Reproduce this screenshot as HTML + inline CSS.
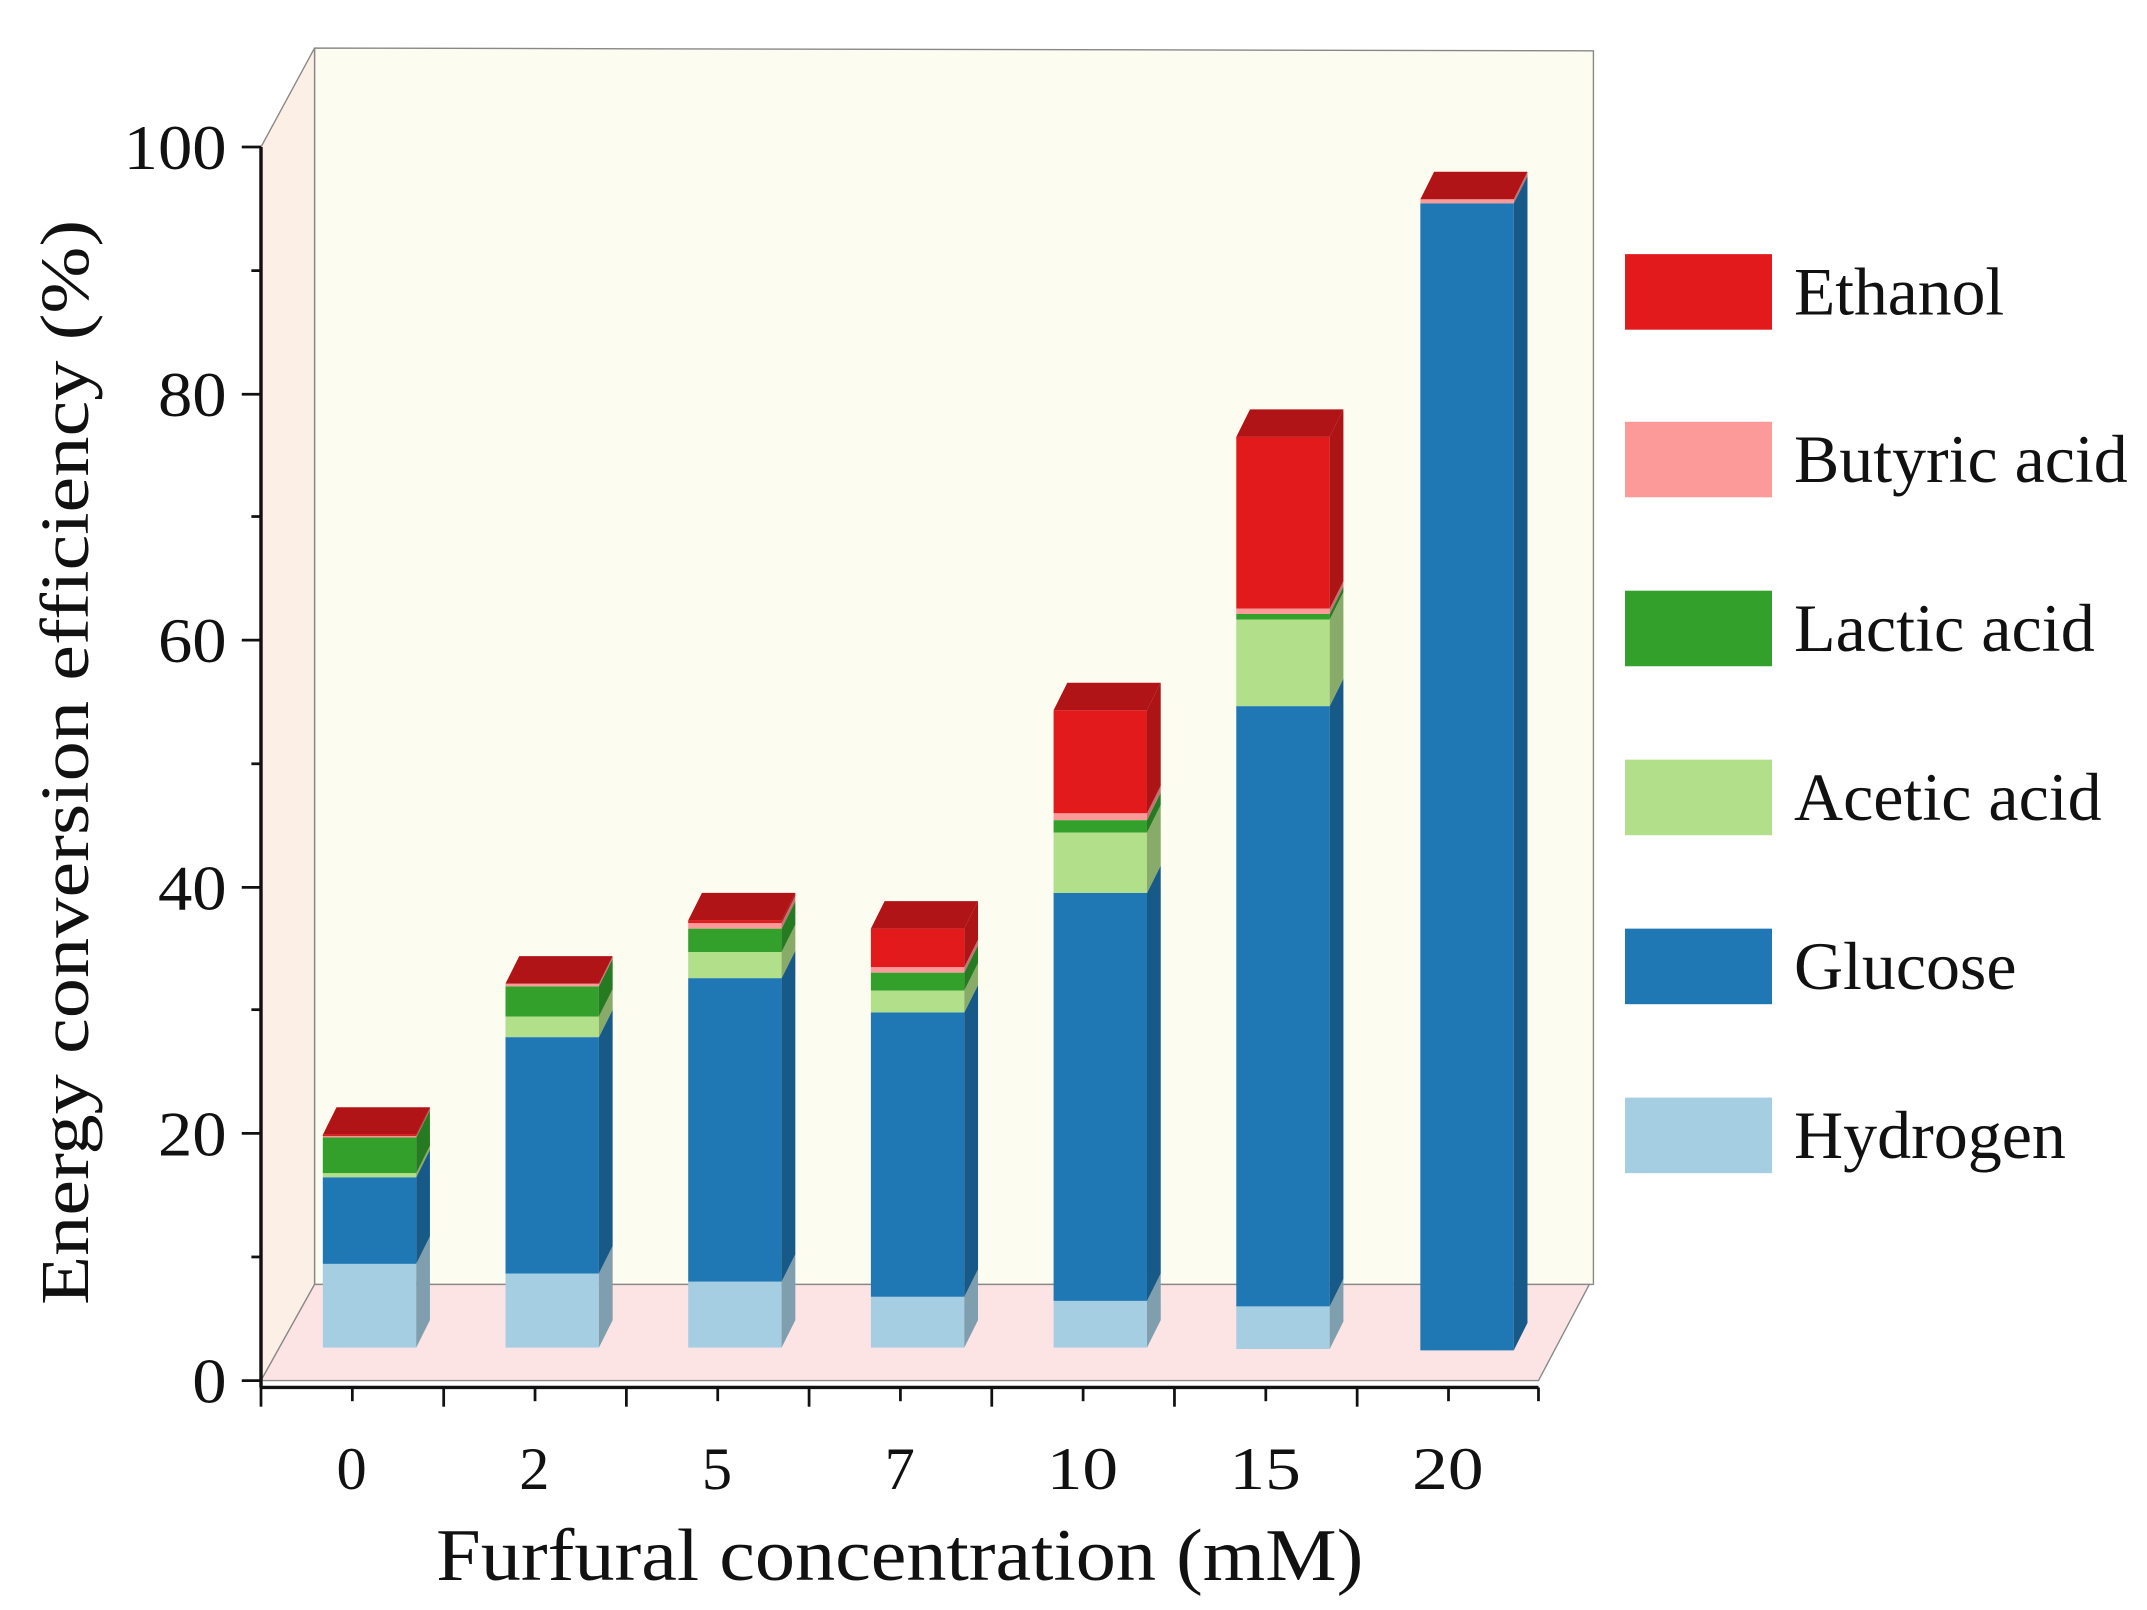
<!DOCTYPE html>
<html><head><meta charset="utf-8"><style>
html,body{margin:0;padding:0;background:#fff;}
svg{display:block;}
text{font-family:"Liberation Serif",serif;fill:#111;}
</style></head><body>
<svg id="s" width="2147" height="1610" viewBox="0 0 1563 1172" preserveAspectRatio="none">
<polygon points="229,35 1160,37 1160,935 229,935" fill="#fdfcf1" stroke="#888" stroke-width="1"/>
<polygon points="190,107 229,35 229,935 190,1005" fill="#fcefe6" stroke="#888" stroke-width="1"/>
<polygon points="190,1005 229,935 1157,935 1120,1005" fill="#fce4e4" stroke="#888" stroke-width="1"/>
<g id="bars"></g>
<line x1="190" y1="107" x2="190" y2="1010" stroke="#111" stroke-width="2.5"/>
<g stroke="#111" stroke-width="2">
<line x1="176" y1="107" x2="190" y2="107"/><line x1="183" y1="197" x2="190" y2="197"/>
<line x1="176" y1="287" x2="190" y2="287"/><line x1="183" y1="376" x2="190" y2="376"/>
<line x1="176" y1="466" x2="190" y2="466"/><line x1="183" y1="556" x2="190" y2="556"/>
<line x1="176" y1="646" x2="190" y2="646"/><line x1="183" y1="735" x2="190" y2="735"/>
<line x1="176" y1="825" x2="190" y2="825"/><line x1="183" y1="915" x2="190" y2="915"/>
<line x1="176" y1="1005" x2="190" y2="1005"/>
</g>
<g font-size="46" text-anchor="end" lengthAdjust="spacingAndGlyphs">
<text x="165" y="123" textLength="75" lengthAdjust="spacingAndGlyphs">100</text>
<text x="165" y="303" textLength="50" lengthAdjust="spacingAndGlyphs">80</text>
<text x="165" y="482" textLength="50" lengthAdjust="spacingAndGlyphs">60</text>
<text x="165" y="662" textLength="50" lengthAdjust="spacingAndGlyphs">40</text>
<text x="165" y="841" textLength="50" lengthAdjust="spacingAndGlyphs">20</text>
<text x="165" y="1021" textLength="25" lengthAdjust="spacingAndGlyphs">0</text>
</g>
<text transform="translate(64,555) rotate(-90)" font-size="50" text-anchor="middle" textLength="790" lengthAdjust="spacingAndGlyphs">Energy conversion efficiency (%)</text>
<line x1="190" y1="1010" x2="1120" y2="1010" stroke="#111" stroke-width="2.5"/>
<g stroke="#111" stroke-width="2" id="xt"></g>
<g font-size="44" text-anchor="middle">
<text x="256" y="1084">0</text><text x="389" y="1084">2</text><text x="522" y="1084">5</text>
<text x="655" y="1084">7</text>
<text x="788" y="1084" textLength="52" lengthAdjust="spacingAndGlyphs">10</text>
<text x="921" y="1084" textLength="52" lengthAdjust="spacingAndGlyphs">15</text>
<text x="1054" y="1084" textLength="52" lengthAdjust="spacingAndGlyphs">20</text>
</g>
<text x="655" y="1150" font-size="54" text-anchor="middle" textLength="675" lengthAdjust="spacingAndGlyphs">Furfural concentration (mM)</text>
<rect x="1183" y="185" width="107" height="55" fill="#e31a1c"/>
<rect x="1183" y="307" width="107" height="55" fill="#fb9a99"/>
<rect x="1183" y="430" width="107" height="55" fill="#33a02c"/>
<rect x="1183" y="553" width="107" height="55" fill="#b2df8a"/>
<rect x="1183" y="676" width="107" height="55" fill="#1f78b4"/>
<rect x="1183" y="799" width="107" height="55" fill="#a6cee3"/>
<g font-size="49">
<text x="1306" y="229" textLength="153" lengthAdjust="spacingAndGlyphs">Ethanol</text>
<text x="1306" y="351" textLength="243" lengthAdjust="spacingAndGlyphs">Butyric acid</text>
<text x="1306" y="474" textLength="219" lengthAdjust="spacingAndGlyphs">Lactic acid</text>
<text x="1306" y="597" textLength="224" lengthAdjust="spacingAndGlyphs">Acetic acid</text>
<text x="1306" y="720" textLength="162" lengthAdjust="spacingAndGlyphs">Glucose</text>
<text x="1306" y="843" textLength="198" lengthAdjust="spacingAndGlyphs">Hydrogen</text>
</g>
</svg>
<script>
var NS="http://www.w3.org/2000/svg";
var cols=["#a6cee3","#1f78b4","#b2df8a","#33a02c","#fb9a99","#e31a1c"];
var side=["#7f9eae","#185a87","#88ab69","#267a21","#c07574","#ad1416"];
var bars=[
[235,[981,920,857,854,828,827,826]],
[368,[981,927,755,740,718,716,716]],
[501,[981,933,712,693,676,672,670]],
[634,[981,944,737,721,708,704,676]],
[767,[981,947,650,606,597,592,517]],
[900,[982,951,514,451,447,443,318]],
[1034,[983,983,148,148,148,145,145]]];
var g=document.getElementById("bars"),W=68,dx=10,dy=-20;
function poly(p,f){var e=document.createElementNS(NS,"polygon");e.setAttribute("points",p);e.setAttribute("fill",f);g.appendChild(e);}
bars.forEach(function(b){var x=b[0],y=b[1];
for(var i=0;i<6;i++){var a=y[i],t=y[i+1];if(a-t<=0)continue;
poly(x+","+a+" "+(x+W)+","+a+" "+(x+W)+","+t+" "+x+","+t,cols[i]);
poly((x+W)+","+a+" "+(x+W+dx)+","+(a+dy)+" "+(x+W+dx)+","+(t+dy)+" "+(x+W)+","+t,side[i]);}
var T=y[6];poly(x+","+T+" "+(x+W)+","+T+" "+(x+W+dx)+","+(T+dy)+" "+(x+dx)+","+(T+dy),"#b01416");});
var xt=document.getElementById("xt");
for(var k=0;k<14;k++){var xx=190+66.5*k;if(xx>1121)break;var l=document.createElementNS(NS,"line");
l.setAttribute("x1",xx);l.setAttribute("x2",xx);l.setAttribute("y1",1010);l.setAttribute("y2",k%2?1020:1024);xt.appendChild(l);}
var l2=document.createElementNS(NS,"line");l2.setAttribute("x1",1120);l2.setAttribute("x2",1120);l2.setAttribute("y1",1010);l2.setAttribute("y2",1020);xt.appendChild(l2);
</script>
</body></html>
